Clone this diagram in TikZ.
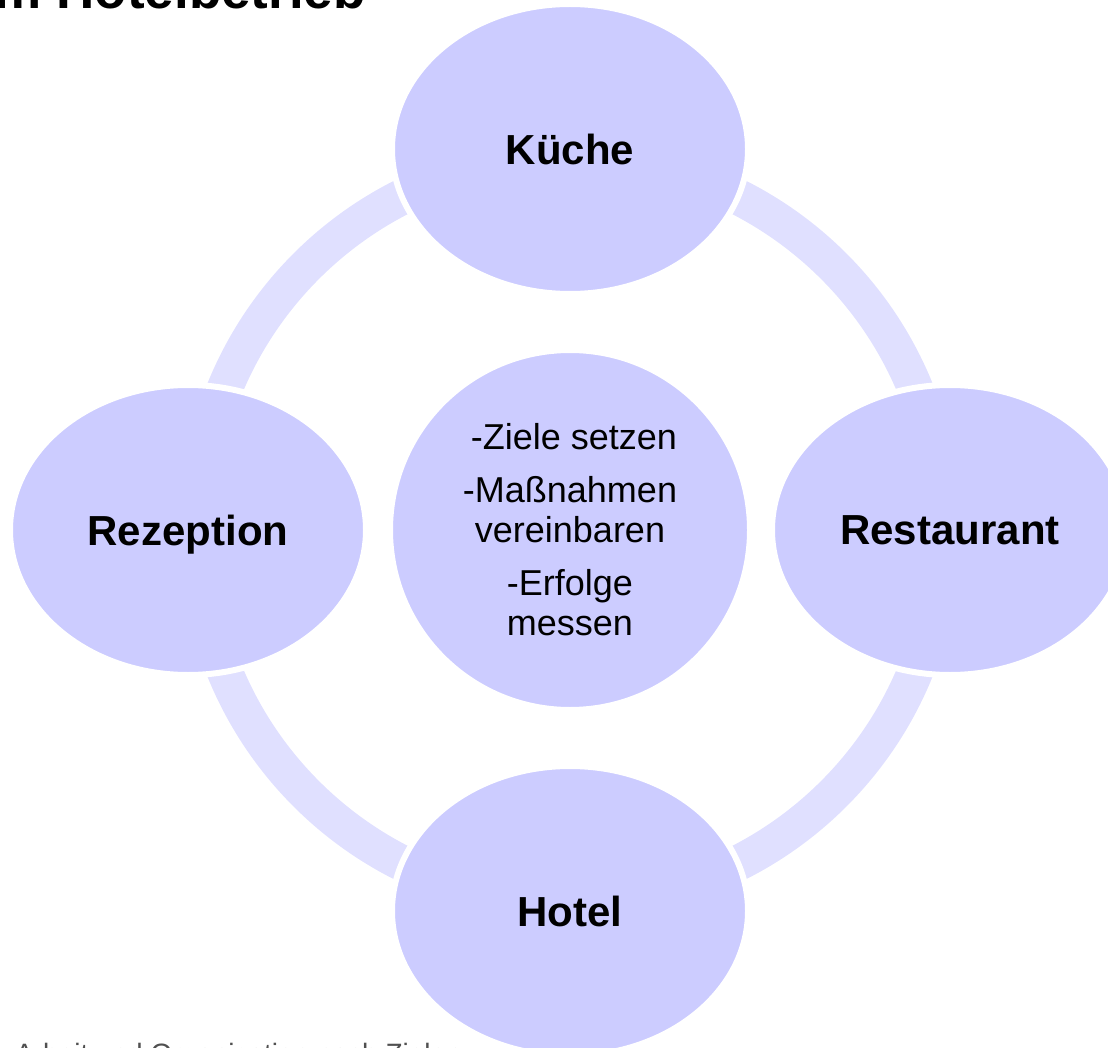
\documentclass[tikz,border=0pt]{standalone}
\usepackage{fontspec}
\setmainfont{Liberation Sans}
\usetikzlibrary{shapes.geometric}
\definecolor{nodefill}{RGB}{204,204,255}
\definecolor{ringfill}{RGB}{224,224,255}
\definecolor{quellgrau}{RGB}{80,80,80}
\tikzset{
  outerbox/.style={ellipse, fill=nodefill, draw=white, line width=6pt,
    minimum width=356pt, minimum height=290pt, inner sep=0pt,
    font=\bfseries\fontsize{42}{48}\selectfont, text depth=0pt},
  centerbox/.style={circle, fill=nodefill, draw=white, line width=6pt,
    minimum size=360pt, inner sep=0pt, align=center,
    font=\fontsize{36}{40}\selectfont},
  ringseg/.style={draw=ringfill, line width=36pt}
}
\begin{document}
\begin{tikzpicture}[x=1pt,y=-1pt]
\useasboundingbox (0,0) rectangle (1108,1048);
\clip (0,0) rectangle (1108,1048);
% title (clipped at top) and footer (clipped at bottom)
\node[anchor=base east, inner sep=0pt, font=\bfseries\fontsize{53}{60}\selectfont] (titel) at (366,9) {Zielvereinbarung im Hotelbetrieb};
\node[anchor=base west, inner sep=0pt, text=quellgrau, font=\fontsize{28}{32}\selectfont] (quelle) at (15,1063) {Arbeit und Organisation nach Zielen};
% center node
\coordinate (m) at (570,530);
% ring segments
\draw[ringseg] (m) ++(90:-373pt) arc[start angle=-90, end angle=0, radius=373pt];
\draw[ringseg] (m) ++(0:373pt) arc[start angle=0, end angle=90, radius=373pt];
\draw[ringseg] (m) ++(90:373pt) arc[start angle=90, end angle=180, radius=373pt];
\draw[ringseg] (m) ++(180:373pt) arc[start angle=180, end angle=270, radius=373pt];
% nodes
\node[outerbox] (kueche) at (570,149) {Küche};
\node[outerbox] (restaurant) at (950,530) {Restaurant};
\node[outerbox] (hotel) at (570,911) {Hotel};
\node[outerbox] (rezeption) at (188,530) {Rezeption};
\node[centerbox] (mitte) at (m) {\hspace*{8pt}-Ziele setzen\\[13pt]-Maßnahmen\\vereinbaren\\[13pt]-Erfolge\\messen};
\end{tikzpicture}
\end{document}
